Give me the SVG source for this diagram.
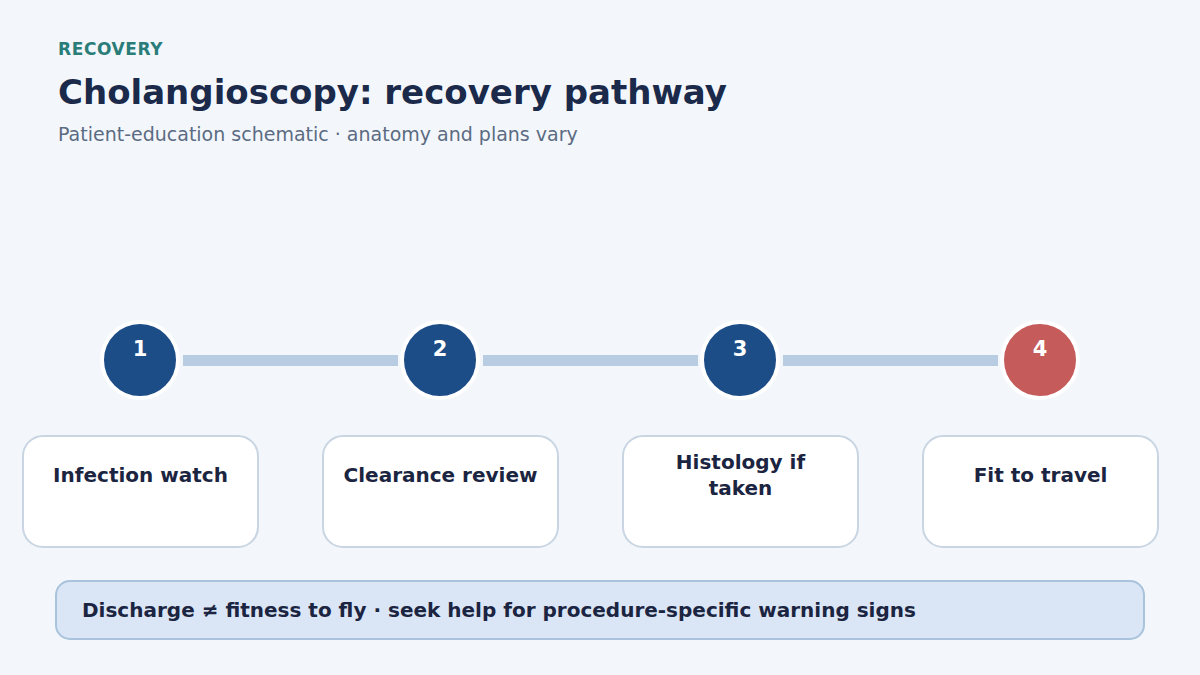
<svg xmlns="http://www.w3.org/2000/svg" width="1200" height="675" viewBox="0 0 1200 675">
<style>
.f{font-family:"DejaVu Sans","Liberation Sans",sans-serif}
.kick{font-size:17px;font-weight:bold;fill:#2a7d78;letter-spacing:0.6px}
.title{font-size:34px;font-weight:bold;fill:#1b2a4a}
.sub{font-size:19px;fill:#5b6b82}
.dot{fill:#1d4d86;stroke:#ffffff;stroke-width:4}
.dot.last{fill:#c55b5b}
.num{font-size:21px;font-weight:bold;fill:#ffffff;text-anchor:middle}
.card{fill:#ffffff;stroke:#c9d5e2;stroke-width:2}
.lbl{font-size:20px;font-weight:bold;fill:#1b2440;text-anchor:middle}
.bar{stroke:#b8cde1;stroke-width:11}
</style>
<rect width="1200" height="675" fill="#f3f7fb"/>
<text class="f kick" x="58" y="55">RECOVERY</text>
<text class="f title" x="58" y="104">Cholangioscopy: recovery pathway</text>
<text class="f sub" x="58" y="141">Patient-education schematic · anatomy and plans vary</text>
<g id="connectors">
<line class="bar" x1="183" y1="360.5" x2="398" y2="360.5"/>
<line class="bar" x1="483" y1="360.5" x2="698" y2="360.5"/>
<line class="bar" x1="783" y1="360.5" x2="998" y2="360.5"/>
</g>
<g id="step1">
<circle class="dot" cx="140" cy="360" r="38"/>
<text class="f num" x="140" y="356">1</text>
<rect class="card" x="23" y="436" width="235" height="111" rx="20"/>
<text class="f lbl" x="140.5" y="482">Infection watch</text>
</g>
<g id="step2">
<circle class="dot" cx="440" cy="360" r="38"/>
<text class="f num" x="440" y="356">2</text>
<rect class="card" x="323" y="436" width="235" height="111" rx="20"/>
<text class="f lbl" x="440.5" y="482">Clearance review</text>
</g>
<g id="step3">
<circle class="dot" cx="740" cy="360" r="38"/>
<text class="f num" x="740" y="356">3</text>
<rect class="card" x="623" y="436" width="235" height="111" rx="20"/>
<text class="f lbl" x="740.5" y="469">Histology if</text>
<text class="f lbl" x="740.5" y="495">taken</text>
</g>
<g id="step4">
<circle class="dot last" cx="1040" cy="360" r="38"/>
<text class="f num" x="1040" y="356">4</text>
<rect class="card" x="923" y="436" width="235" height="111" rx="20"/>
<text class="f lbl" x="1040.5" y="482">Fit to travel</text>
</g>
<g id="banner">
<rect x="56" y="581" width="1088" height="58" rx="14" fill="#dae6f5" stroke="#a9c3dd" stroke-width="2"/>
<text class="f" x="82" y="617" font-size="20" font-weight="bold" fill="#1b2440">Discharge ≠ fitness to fly · seek help for procedure-specific warning signs</text>
</g>
</svg>
